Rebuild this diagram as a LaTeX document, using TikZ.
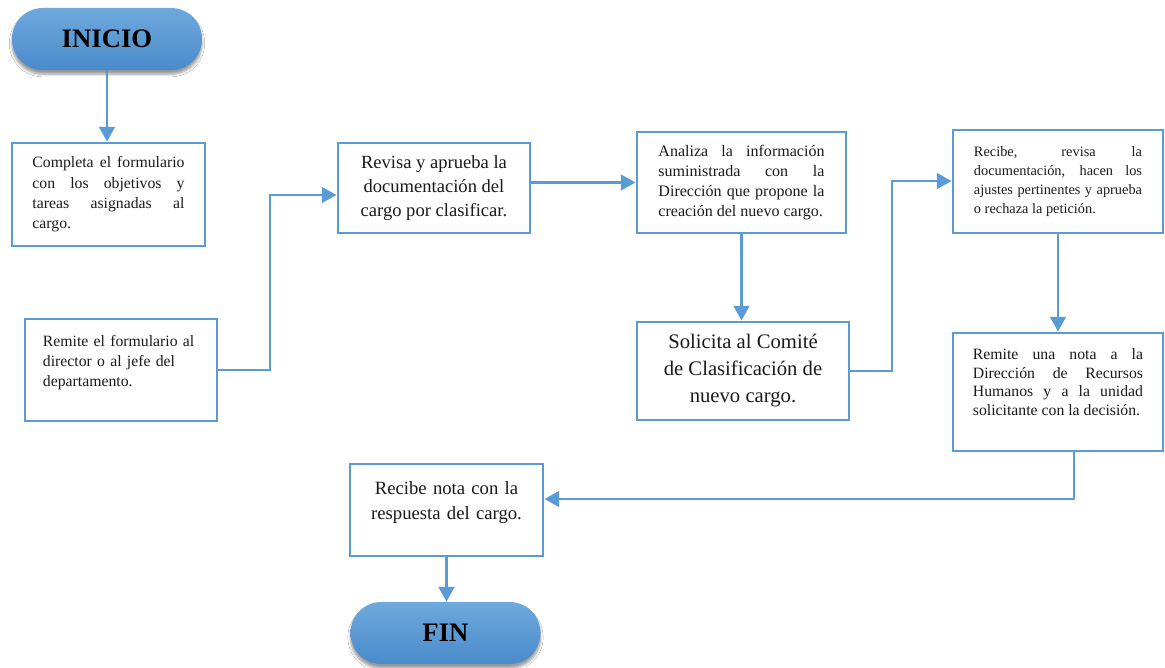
\documentclass[tikz,border=0pt]{standalone}
\usepackage{fontspec}
\setmainfont{Liberation Serif}
\usetikzlibrary{arrows.meta,shadows.blur}
\tolerance=9999
\hyphenpenalty=10000

\begin{document}
\begin{tikzpicture}[x=0.025cm,y=-0.025cm]
  % Flujo para clasificar un cargo nuevo: cajas en coordenadas de la hoja,
  % conectores en angulo recto entre ellas.
  \definecolor{flujo}{HTML}{5B9BD5}
  \definecolor{termtop}{HTML}{6FA9DD}
  \definecolor{termbot}{HTML}{4A8BCB}
  \definecolor{tinta}{HTML}{1A1A1A}
  \fill[white] (0,0) rectangle (1165,667);

  \tikzset{paso/.style={draw=flujo,line width=2pt,fill=white,text=tinta,inner sep=0pt},
            terminal/.style={rounded corners=0.77cm,top color=termtop,bottom color=termbot,
              minimum width=4.75cm,minimum height=1.55cm,text=black,
              font=\bfseries\fontsize{19}{22}\selectfont,
              blur shadow={shadow xshift=0pt,shadow yshift=-3pt,shadow blur steps=6,shadow opacity=40}},
            flecha/.style={draw=flujo,line width=2.1pt,-{Triangle[length=10.5pt,width=11pt]}}}

  \node[terminal] (ini) at (107,39) {INICIO};
  \node[paso,minimum width=4.825cm,minimum height=2.575cm,text width=3.8cm,align=justify,
        font=\fontsize{11.2}{14.4}\selectfont] (b1) at (108.5,194.5)
        {Completa el formulario\linebreak con los objetivos y\linebreak tareas asignadas al\linebreak cargo.};
  \node[paso,minimum width=4.8cm,minimum height=2.55cm,text width=3.9cm,align=left,
        font=\fontsize{11.2}{14.2}\selectfont] (b2) at (121,370)
        {Remite el formulario al\\ director o al jefe del\\ departamento.\par\vspace{10pt}};
  \node[paso,minimum width=4.8cm,minimum height=2.25cm,align=center,
        font=\fontsize{13.2}{17}\selectfont] (b3) at (434,188)
        {Revisa y aprueba la\\ documentación del\\ cargo por clasificar.};
  \node[paso,minimum width=5.225cm,minimum height=2.525cm,text width=4.15cm,align=justify,
        font=\fontsize{11.4}{14.4}\selectfont] (b4) at (741.5,182.5)
        {Analiza la información\linebreak suministrada con la\linebreak Dirección que propone la\linebreak creación del nuevo cargo.};
  \node[paso,minimum width=5.3cm,minimum height=2.45cm,align=center,
        font=\fontsize{14.7}{19.2}\selectfont] (b5) at (743,371)
        {Solicita al Comité\\ de Clasificación de\\ nuevo cargo.};
  \node[paso,minimum width=5.25cm,minimum height=2.575cm,text width=4.2cm,align=justify,
        font=\fontsize{10.2}{13.6}\selectfont] (b6) at (1058,181.5)
        {Recibe, revisa la\linebreak documentación, hacen los\linebreak ajustes pertinentes y aprueba\linebreak o rechaza la petición.};
  \node[paso,minimum width=5.25cm,minimum height=2.95cm,text width=4.25cm,align=justify,
        font=\fontsize{11.2}{13.2}\selectfont] (b7) at (1058,392)
        {Remite una nota a la\linebreak Dirección de Recursos\linebreak Humanos y a la unidad\linebreak solicitante con la decisión.\par\vspace{14pt}};
  \node[paso,minimum width=4.825cm,minimum height=2.3cm,text width=4.2cm,align=center,
        font=\fontsize{13.3}{17.8}\selectfont] (b8) at (446.5,510)
        {Recibe nota con la\\ respuesta del cargo.\par\vspace{11pt}};
  \node[terminal] (fin) at (445.5,633) {FIN};

  \coordinate (c1) at (270,195);
  \coordinate (c2) at (892,181);
  \coordinate (c3) at (1074,499);

  \draw[flecha] (ini.south) -- (ini.south |- b1.north);
  \draw[flecha] (b2.east) -| (c1) -- (c1 -| b3.west);
  \draw[flecha] (b4.west -| b3.east) -- (b4.west);
  \draw[flecha] (b4.south) -- (b4.south |- b5.north);
  \draw[flecha] (b5.east) -| (c2) -- (c2 -| b6.west);
  \draw[flecha] (b6.south) -- (b6.south |- b7.north);
  \draw[flecha] (c3 |- b7.south) -- (c3) -- (c3 -| b8.east);
  \draw[flecha] (b8.south) -- (b8.south |- fin.north);
\end{tikzpicture}
\end{document}
